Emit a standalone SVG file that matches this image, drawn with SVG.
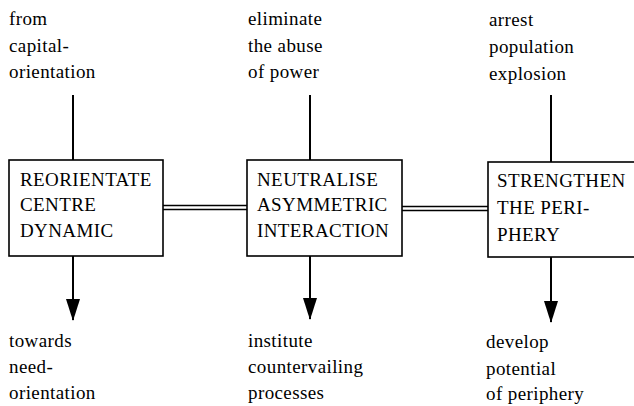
<svg xmlns="http://www.w3.org/2000/svg" width="634" height="406" viewBox="0 0 634 406">
<defs>
<marker id="ah" markerUnits="userSpaceOnUse" markerWidth="22" markerHeight="14" refX="21" refY="7" orient="auto" viewBox="0 0 22 14">
<path d="M0,0 L22,7 L0,14 Z" fill="#000"/>
</marker>
<style>
text{font-family:"Liberation Serif","DejaVu Serif",serif;font-size:19px;fill:#000;letter-spacing:0.4px}
.box{fill:#fff;stroke:#000;stroke-width:1.6}
.ln{stroke:#000;stroke-width:2;fill:none}
.dl{stroke:#000;stroke-width:1.4;fill:none}
</style>
</defs>
<rect width="634" height="406" fill="#fff"/>
<g id="connectors">
<line class="ln" x1="73" y1="95" x2="73" y2="160"/>
<line class="ln" x1="310" y1="95" x2="310" y2="160"/>
<line class="ln" x1="551" y1="95" x2="551" y2="162"/>
<line class="ln" x1="73" y1="256" x2="73" y2="320" marker-end="url(#ah)"/>
<line class="ln" x1="310" y1="256" x2="310" y2="319" marker-end="url(#ah)"/>
<line class="ln" x1="551" y1="257" x2="551" y2="322" marker-end="url(#ah)"/>
<line class="dl" x1="163" y1="205.5" x2="247" y2="205.5"/>
<line class="dl" x1="163" y1="209.5" x2="247" y2="209.5"/>
<line class="dl" x1="402" y1="206.5" x2="488" y2="206.5"/>
<line class="dl" x1="402" y1="210.5" x2="488" y2="210.5"/>
</g>
<g id="node1">
<rect class="box" x="9" y="160" width="154" height="96"/>
<text x="20" y="186">REORIENTATE</text>
<text x="20" y="211">CENTRE</text>
<text x="20" y="237">DYNAMIC</text>
</g>
<g id="node2">
<rect class="box" x="247" y="160" width="155" height="96"/>
<text x="257" y="186">NEUTRALISE</text>
<text x="257" y="211">ASYMMETRIC</text>
<text x="257" y="237">INTERACTION</text>
</g>
<g id="node3">
<rect class="box" x="488" y="162" width="150" height="95"/>
<text x="497" y="187">STRENGTHEN</text>
<text x="497" y="214">THE PERI-</text>
<text x="497" y="241">PHERY</text>
</g>
<g id="top-labels">
<text x="9" y="25">from</text>
<text x="9" y="52">capital-</text>
<text x="9" y="78">orientation</text>
<text x="248" y="25">eliminate</text>
<text x="248" y="52">the abuse</text>
<text x="248" y="78">of power</text>
<text x="489" y="26">arrest</text>
<text x="489" y="53">population</text>
<text x="489" y="80">explosion</text>
</g>
<g id="bottom-labels">
<text x="9" y="347">towards</text>
<text x="9" y="373">need-</text>
<text x="9" y="399">orientation</text>
<text x="248" y="347">institute</text>
<text x="248" y="373">countervailing</text>
<text x="248" y="399">processes</text>
<text x="486" y="348">develop</text>
<text x="486" y="375">potential</text>
<text x="486" y="400">of periphery</text>
</g>
</svg>
